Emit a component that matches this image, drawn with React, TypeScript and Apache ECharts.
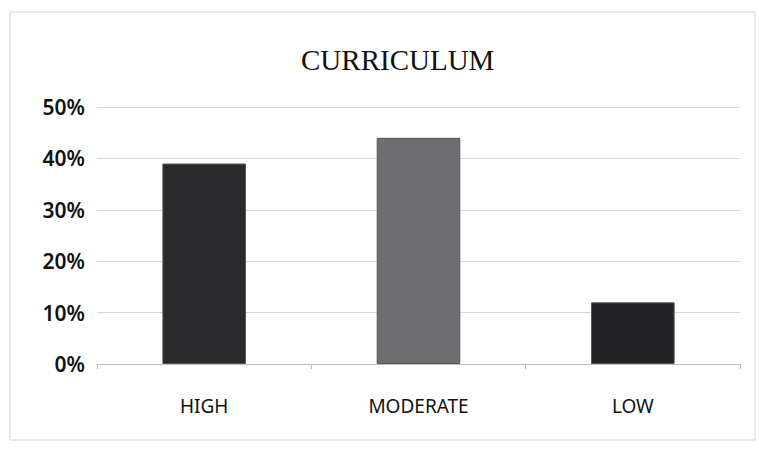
import React, { useEffect, useRef } from "react";
import * as echarts from "echarts";

const categories = ["HIGH", "MODERATE", "LOW"];
const values = [39, 44, 12];
const barColors = ["#2a2a2c", "#6e6e72", "#222224"];
const yTicks = [0, 10, 20, 30, 40, 50];

export default function App() {
  const ref = useRef<HTMLDivElement>(null);
  useEffect(() => {
    if (!ref.current) return;
    const chart = echarts.init(ref.current, undefined, { renderer: "svg" });
    chart.setOption({
      animation: false,
      backgroundColor: "#ffffff",
      title: {
        text: "CURRICULUM",
        left: 296,
        top: 40,
        textStyle: {
          fontFamily: "Liberation Serif",
          fontWeight: "normal",
          fontSize: 29,
          color: "#111",
        },
      },
      graphic: [
        {
          type: "rect",
          shape: { x: 10, y: 12, width: 745, height: 428 },
          style: { fill: "none", stroke: "#d4d4d4", lineWidth: 1 },
        },
      ],
      grid: { left: 97, right: 19, top: 107, bottom: 86 },
      xAxis: {
        type: "category",
        data: categories,
        axisLine: { lineStyle: { color: "#bdbdbd" } },
        axisTick: { show: true, alignWithLabel: false, lineStyle: { color: "#bdbdbd" }, length: 5 },
        axisLabel: {
          margin: 32,
          fontFamily: "Noto Sans",
          fontSize: 19,
          color: "#111",
        },
      },
      yAxis: {
        type: "value",
        min: yTicks[0],
        max: yTicks[yTicks.length - 1],
        interval: 10,
        axisLine: { show: false },
        axisTick: { show: false },
        splitLine: { lineStyle: { color: "#d6d6d6" } },
        axisLabel: {
          formatter: "{value}%",
          margin: 12,
          fontFamily: "Noto Sans",
          fontWeight: 600,
          fontSize: 21,
          color: "#111",
        },
      },
      series: [
        {
          type: "bar",
          barWidth: "39%",
          data: values.map((v, i) => ({ value: v, itemStyle: { color: barColors[i] } })),
          itemStyle: { borderColor: "#555", borderWidth: 1 },
        },
      ],
    });
    return () => chart.dispose();
  }, []);
  return (
    <div
      ref={ref}
      style={{ position: "fixed", left: 0, top: 0, width: 759, height: 450 }}
    />
  );
}
